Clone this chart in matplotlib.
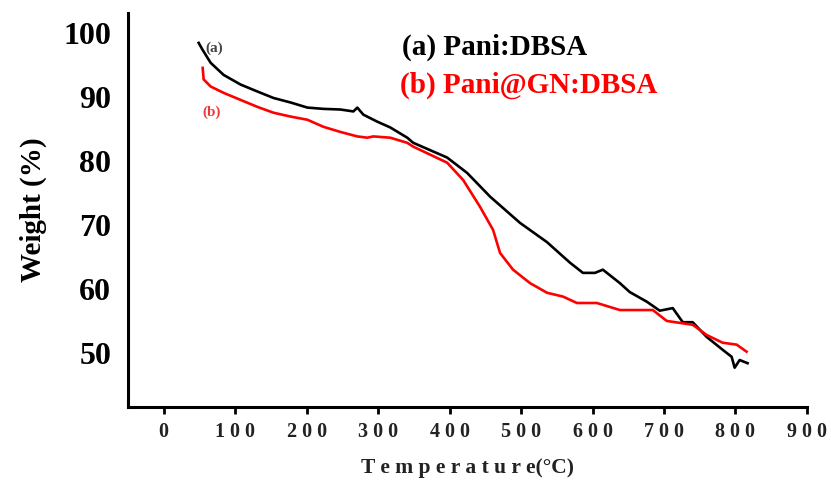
import matplotlib
matplotlib.use('Agg')
import matplotlib.pyplot as plt

# TGA curves
temp_a = [48.9, 54.5, 65.6, 83.8, 107.5, 131.3, 153.6, 177.4, 201.1, 223.5,
          247.2, 265.4, 270.9, 279.3, 298.9, 317.0, 340.8, 349.2, 396.6, 424.6,
          456.7, 498.6, 536.3, 568.4, 586.6, 603.4, 614.5, 638.3, 652.2, 676.0,
          694.1, 712.3, 726.3, 740.2, 759.8, 782.1, 794.7, 798.9, 805.9, 817.0]
weight_a = [98.4, 97.3, 95.3, 93.4, 91.9, 90.8, 89.8, 89.1, 88.3, 88.1,
            88.0, 87.7, 88.3, 87.2, 86.1, 85.2, 83.6, 82.8, 80.5, 78.1,
            74.4, 70.3, 67.3, 64.1, 62.5, 62.5, 63.0, 60.9, 59.5, 58.0,
            56.6, 57.0, 54.8, 54.8, 52.5, 50.5, 49.4, 47.7, 48.9, 48.4]

temp_b = [54.5, 55.9, 65.6, 83.8, 107.5, 131.3, 153.6, 177.4, 201.1, 223.5,
          247.2, 270.9, 284.9, 293.3, 317.0, 340.8, 349.2, 396.6, 419.0, 442.7,
          460.9, 470.7, 488.8, 512.6, 536.3, 558.7, 578.2, 606.1, 638.3, 684.4,
          703.9, 740.2, 759.8, 782.1, 801.7, 815.6]
weight_b = [94.5, 92.7, 91.6, 90.6, 89.5, 88.4, 87.5, 86.9, 86.4, 85.3,
            84.5, 83.8, 83.6, 83.8, 83.6, 82.8, 82.2, 79.7, 77.0, 72.8,
            69.2, 65.6, 63.0, 60.9, 59.4, 58.8, 57.8, 57.8, 56.7, 56.7,
            55.0, 54.4, 52.8, 51.6, 51.3, 50.2]

x_ticks = [0, 100, 200, 300, 400, 500, 600, 700, 800, 900]
x_tick_labels = ['0', '1 0 0', '2 0 0', '3 0 0', '4 0 0', '5 0 0',
                 '6 0 0', '7 0 0', '8 0 0', '9 0 0']
y_ticks = [50, 60, 70, 80, 90, 100]

serif = 'Liberation Serif'

fig = plt.figure(figsize=(8.31, 4.91), dpi=100)
ax = fig.add_axes([0.154, 0.171, 0.817, 0.803])

ax.plot(temp_a, weight_a, color='black', lw=1.9)
ax.plot(temp_b, weight_b, color='#ff0000', lw=1.9)

ax.set_xlim(-50, 900)
ax.set_ylim(41.56, 103.1)

ax.spines['top'].set_visible(False)
ax.spines['right'].set_visible(False)
ax.spines['left'].set_linewidth(2.2)
ax.spines['bottom'].set_linewidth(2.2)

ax.set_xticks(x_ticks)
ax.set_xticklabels(x_tick_labels, family=serif, fontweight='bold',
                   fontsize=14.5, color='#222222')
ax.set_yticks(y_ticks)
ax.set_yticklabels([str(v) for v in y_ticks], family=serif,
                   fontweight='bold', fontsize=23)
ax.tick_params(axis='x', direction='out', length=5, width=2, pad=6)
ax.tick_params(axis='y', length=0, pad=12)

ax.set_ylabel('Weight (%)', family=serif, fontweight='bold', fontsize=21,
              labelpad=12)
ax.set_xlabel('T e m p e r a t u r e(°C)', family=serif, fontweight='bold',
              fontsize=15.5, labelpad=11, color='#222222')

# curve tags
ax.text(58, 97.5, '(a)', family=serif, fontweight='bold', fontsize=11,
        color='#444444', va='center')
ax.text(54, 87.5, '(b)', family=serif, fontweight='bold', fontsize=11,
        color='#e83a3a', va='center')

# legend written as text
fig.text(0.484, 0.904, '(a) Pani:DBSA', family=serif, fontweight='bold',
         fontsize=21, color='black', va='center')
fig.text(0.481, 0.827, '(b) Pani@GN:DBSA', family=serif, fontweight='bold',
         fontsize=21, color='#ff0000', va='center')

fig.savefig('out.png', dpi=100)
